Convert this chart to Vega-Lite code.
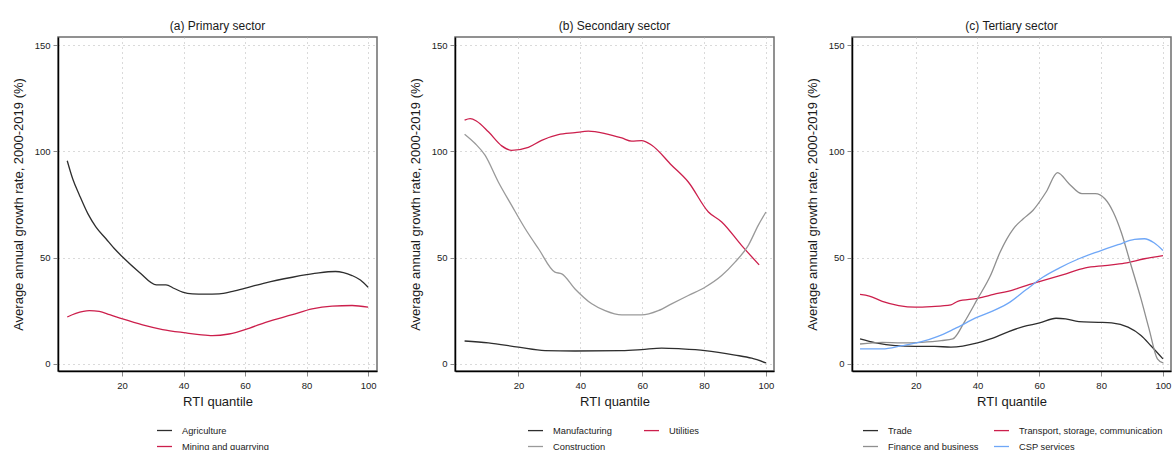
{
  "$schema": "https://vega.github.io/schema/vega-lite/v6.json",
  "padding": {"left": 11, "top": 19, "right": 0, "bottom": 0},
  "spacing": 30,
  "background": "white",
  "resolve": {"scale": {"color": "independent", "x": "independent", "y": "independent"}, "legend": {"color": "independent"}},
  "config": {
    "font": "Liberation Sans",
    "view": {"stroke": "#6e6e6e", "strokeWidth": 1.5},
    "title": {"fontSize": 12, "fontWeight": "normal", "color": "#1a1a1a", "offset": 4, "anchor": "middle"},
    "axis": {
      "domainColor": "#000000", "domainWidth": 1.5,
      "tickColor": "#8a8a8a", "tickSize": 5, "tickWidth": 1,
      "labelFontSize": 9.5, "labelColor": "#222222", "labelPadding": 3,
      "titleFontSize": 13, "titleFontWeight": "normal", "titleColor": "#1a1a1a",
      "grid": true, "gridColor": "#b5b5b5", "gridDash": [1, 4], "gridWidth": 1
    },
    "axisX": {"titlePadding": 6, "labelPadding": 4},
    "axisY": {"titlePadding": 9, "labelAngle": 0},
    "legend": {
      "orient": "none", "title": null, "symbolType": "stroke", "symbolSize": 225,
      "symbolStrokeWidth": 1.3, "labelFontSize": 9.3, "labelColor": "#222222",
      "labelOffset": 9, "rowPadding": 2
    },
    "line": {"strokeWidth": 1.3, "interpolate": "monotone"}
  },
  "datasets": {
    "a": [
      {"s": "Agriculture", "q": 2.2, "v": 95.6}, {"s": "Agriculture", "q": 4, "v": 87}, {"s": "Agriculture", "q": 6.2, "v": 79.3},
      {"s": "Agriculture", "q": 8.9, "v": 70.7}, {"s": "Agriculture", "q": 11.5, "v": 64.5}, {"s": "Agriculture", "q": 14.8, "v": 58.9},
      {"s": "Agriculture", "q": 17.5, "v": 54.3}, {"s": "Agriculture", "q": 20.2, "v": 50.3}, {"s": "Agriculture", "q": 25.6, "v": 43.2},
      {"s": "Agriculture", "q": 31.2, "v": 37.2}, {"s": "Agriculture", "q": 34.3, "v": 37.2}, {"s": "Agriculture", "q": 37, "v": 35.5},
      {"s": "Agriculture", "q": 39.7, "v": 33.8}, {"s": "Agriculture", "q": 42.9, "v": 33.0}, {"s": "Agriculture", "q": 47, "v": 32.9},
      {"s": "Agriculture", "q": 51.6, "v": 33.0}, {"s": "Agriculture", "q": 56, "v": 34.2}, {"s": "Agriculture", "q": 60.2, "v": 35.7},
      {"s": "Agriculture", "q": 66.7, "v": 38.2}, {"s": "Agriculture", "q": 75.4, "v": 40.8}, {"s": "Agriculture", "q": 80, "v": 42},
      {"s": "Agriculture", "q": 84, "v": 42.9}, {"s": "Agriculture", "q": 89.4, "v": 43.5}, {"s": "Agriculture", "q": 92, "v": 43},
      {"s": "Agriculture", "q": 94.8, "v": 41.6}, {"s": "Agriculture", "q": 97.5, "v": 39.5}, {"s": "Agriculture", "q": 100, "v": 36.1},
      {"s": "Mining and quarrying", "q": 2.2, "v": 22.1}, {"s": "Mining and quarrying", "q": 5, "v": 23.8}, {"s": "Mining and quarrying", "q": 9.4, "v": 25.1},
      {"s": "Mining and quarrying", "q": 12.6, "v": 24.7}, {"s": "Mining and quarrying", "q": 16, "v": 23.2}, {"s": "Mining and quarrying", "q": 20.2, "v": 21.2},
      {"s": "Mining and quarrying", "q": 26.7, "v": 18.4}, {"s": "Mining and quarrying", "q": 33.2, "v": 16.2}, {"s": "Mining and quarrying", "q": 40.8, "v": 14.6},
      {"s": "Mining and quarrying", "q": 45.1, "v": 13.8}, {"s": "Mining and quarrying", "q": 49.4, "v": 13.3}, {"s": "Mining and quarrying", "q": 54.8, "v": 14.1},
      {"s": "Mining and quarrying", "q": 61.3, "v": 16.8}, {"s": "Mining and quarrying", "q": 66.7, "v": 19.6}, {"s": "Mining and quarrying", "q": 75.4, "v": 23.2},
      {"s": "Mining and quarrying", "q": 81.8, "v": 25.9}, {"s": "Mining and quarrying", "q": 88.3, "v": 27.2}, {"s": "Mining and quarrying", "q": 94.8, "v": 27.5},
      {"s": "Mining and quarrying", "q": 100, "v": 26.7}
    ],
    "b": [
      {"s": "Manufacturing", "q": 2.6, "v": 10.8}, {"s": "Manufacturing", "q": 10.3, "v": 9.9}, {"s": "Manufacturing", "q": 20, "v": 7.9},
      {"s": "Manufacturing", "q": 28.6, "v": 6.3}, {"s": "Manufacturing", "q": 38.3, "v": 6.1}, {"s": "Manufacturing", "q": 53.4, "v": 6.3},
      {"s": "Manufacturing", "q": 59.8, "v": 6.8}, {"s": "Manufacturing", "q": 66.3, "v": 7.5}, {"s": "Manufacturing", "q": 72.8, "v": 7.1},
      {"s": "Manufacturing", "q": 80.3, "v": 6.3}, {"s": "Manufacturing", "q": 90, "v": 4.2}, {"s": "Manufacturing", "q": 95.4, "v": 2.7},
      {"s": "Manufacturing", "q": 100, "v": 0.5},
      {"s": "Utilities", "q": 2.6, "v": 114.7}, {"s": "Utilities", "q": 4.4, "v": 115.4}, {"s": "Utilities", "q": 6.5, "v": 114.2},
      {"s": "Utilities", "q": 10.3, "v": 109.2}, {"s": "Utilities", "q": 14.6, "v": 102.6}, {"s": "Utilities", "q": 17.8, "v": 100.5},
      {"s": "Utilities", "q": 23.2, "v": 101.9}, {"s": "Utilities", "q": 27.5, "v": 105.2}, {"s": "Utilities", "q": 32.9, "v": 107.9},
      {"s": "Utilities", "q": 38.3, "v": 108.8}, {"s": "Utilities", "q": 42.6, "v": 109.5}, {"s": "Utilities", "q": 48.0, "v": 108.4},
      {"s": "Utilities", "q": 53.4, "v": 106.3}, {"s": "Utilities", "q": 56.6, "v": 104.8}, {"s": "Utilities", "q": 59.8, "v": 105.1},
      {"s": "Utilities", "q": 63.1, "v": 102.9}, {"s": "Utilities", "q": 69.5, "v": 93.5}, {"s": "Utilities", "q": 74.9, "v": 85.6},
      {"s": "Utilities", "q": 81.4, "v": 71.5}, {"s": "Utilities", "q": 85.7, "v": 66.8}, {"s": "Utilities", "q": 92.1, "v": 55.8},
      {"s": "Utilities", "q": 97.8, "v": 46.6},
      {"s": "Construction", "q": 2.6, "v": 108.1}, {"s": "Construction", "q": 6.0, "v": 103.7}, {"s": "Construction", "q": 9.2, "v": 98.2},
      {"s": "Construction", "q": 13.5, "v": 85.6}, {"s": "Construction", "q": 17.8, "v": 74.6}, {"s": "Construction", "q": 22.2, "v": 63.6},
      {"s": "Construction", "q": 26.5, "v": 54.2}, {"s": "Construction", "q": 31.8, "v": 43.2}, {"s": "Construction", "q": 34.0, "v": 42.4},
      {"s": "Construction", "q": 38.3, "v": 35.3}, {"s": "Construction", "q": 43.7, "v": 28.3}, {"s": "Construction", "q": 48.0, "v": 25.1},
      {"s": "Construction", "q": 53.4, "v": 23.1}, {"s": "Construction", "q": 59.8, "v": 23.1}, {"s": "Construction", "q": 65.2, "v": 25.1},
      {"s": "Construction", "q": 69.5, "v": 28.3}, {"s": "Construction", "q": 74.9, "v": 32.2}, {"s": "Construction", "q": 80.3, "v": 36.1},
      {"s": "Construction", "q": 85.7, "v": 41.6}, {"s": "Construction", "q": 90.0, "v": 47.9}, {"s": "Construction", "q": 94.3, "v": 55.8},
      {"s": "Construction", "q": 97.5, "v": 65.2}, {"s": "Construction", "q": 100, "v": 71.5}
    ],
    "c": [
      {"s": "Trade", "q": 2.0, "v": 11.8}, {"s": "Trade", "q": 7.1, "v": 9.9}, {"s": "Trade", "q": 13.4, "v": 8.6},
      {"s": "Trade", "q": 19.8, "v": 8.3}, {"s": "Trade", "q": 26.1, "v": 8.3}, {"s": "Trade", "q": 31.4, "v": 7.9},
      {"s": "Trade", "q": 40.0, "v": 9.9}, {"s": "Trade", "q": 44.2, "v": 11.8}, {"s": "Trade", "q": 49.5, "v": 14.9},
      {"s": "Trade", "q": 54.8, "v": 17.6}, {"s": "Trade", "q": 60.1, "v": 19.3}, {"s": "Trade", "q": 65.4, "v": 21.5},
      {"s": "Trade", "q": 68.5, "v": 21.2}, {"s": "Trade", "q": 72.8, "v": 19.9}, {"s": "Trade", "q": 79.1, "v": 19.6},
      {"s": "Trade", "q": 83.4, "v": 19.3}, {"s": "Trade", "q": 88.7, "v": 17.3}, {"s": "Trade", "q": 92.9, "v": 13.4},
      {"s": "Trade", "q": 96.1, "v": 8.6}, {"s": "Trade", "q": 100, "v": 2.4},
      {"s": "Transport, storage, communication", "q": 2.0, "v": 32.7}, {"s": "Transport, storage, communication", "q": 5.0, "v": 31.9},
      {"s": "Transport, storage, communication", "q": 9.2, "v": 29.5}, {"s": "Transport, storage, communication", "q": 14.5, "v": 27.5},
      {"s": "Transport, storage, communication", "q": 19.8, "v": 26.7}, {"s": "Transport, storage, communication", "q": 25.1, "v": 27.0},
      {"s": "Transport, storage, communication", "q": 31.4, "v": 27.8}, {"s": "Transport, storage, communication", "q": 33.6, "v": 29.5},
      {"s": "Transport, storage, communication", "q": 40.0, "v": 30.9}, {"s": "Transport, storage, communication", "q": 45.2, "v": 32.7},
      {"s": "Transport, storage, communication", "q": 51.6, "v": 34.9}, {"s": "Transport, storage, communication", "q": 56.9, "v": 37.4},
      {"s": "Transport, storage, communication", "q": 62.2, "v": 39.7}, {"s": "Transport, storage, communication", "q": 67.5, "v": 41.9},
      {"s": "Transport, storage, communication", "q": 74.9, "v": 45.2}, {"s": "Transport, storage, communication", "q": 81.2, "v": 46.3},
      {"s": "Transport, storage, communication", "q": 87.6, "v": 47.4}, {"s": "Transport, storage, communication", "q": 94.0, "v": 49.5},
      {"s": "Transport, storage, communication", "q": 100, "v": 51.0},
      {"s": "Finance and business", "q": 2.0, "v": 9.4}, {"s": "Finance and business", "q": 9.2, "v": 10.2}, {"s": "Finance and business", "q": 15.5, "v": 9.9},
      {"s": "Finance and business", "q": 21.9, "v": 10.2}, {"s": "Finance and business", "q": 28.3, "v": 11.0}, {"s": "Finance and business", "q": 32.0, "v": 11.8},
      {"s": "Finance and business", "q": 35.7, "v": 19.6}, {"s": "Finance and business", "q": 40.0, "v": 30.6}, {"s": "Finance and business", "q": 44.2, "v": 41.6},
      {"s": "Finance and business", "q": 47.3, "v": 52.6}, {"s": "Finance and business", "q": 51.6, "v": 63.6}, {"s": "Finance and business", "q": 54.8, "v": 68.3},
      {"s": "Finance and business", "q": 57.9, "v": 72.2}, {"s": "Finance and business", "q": 62.2, "v": 80.9}, {"s": "Finance and business", "q": 65.9, "v": 90.0},
      {"s": "Finance and business", "q": 69.6, "v": 84.8}, {"s": "Finance and business", "q": 73.8, "v": 80.1}, {"s": "Finance and business", "q": 78.1, "v": 80.1},
      {"s": "Finance and business", "q": 81.2, "v": 77.7}, {"s": "Finance and business", "q": 83.9, "v": 71.5}, {"s": "Finance and business", "q": 86.5, "v": 62.0},
      {"s": "Finance and business", "q": 89.7, "v": 46.3}, {"s": "Finance and business", "q": 92.9, "v": 30.6}, {"s": "Finance and business", "q": 95.5, "v": 16.5},
      {"s": "Finance and business", "q": 98.2, "v": 2.4}, {"s": "Finance and business", "q": 100, "v": 0.5},
      {"s": "CSP services", "q": 2.0, "v": 7.1}, {"s": "CSP services", "q": 9.2, "v": 7.1}, {"s": "CSP services", "q": 15.5, "v": 8.6},
      {"s": "CSP services", "q": 21.9, "v": 10.5}, {"s": "CSP services", "q": 27.2, "v": 13.0}, {"s": "CSP services", "q": 32.5, "v": 16.5},
      {"s": "CSP services", "q": 40.0, "v": 22.0}, {"s": "CSP services", "q": 45.2, "v": 25.1}, {"s": "CSP services", "q": 50.5, "v": 29.1},
      {"s": "CSP services", "q": 55.8, "v": 35.0}, {"s": "CSP services", "q": 61.1, "v": 40.8}, {"s": "CSP services", "q": 66.4, "v": 45.1},
      {"s": "CSP services", "q": 72.8, "v": 49.5}, {"s": "CSP services", "q": 79.1, "v": 52.9}, {"s": "CSP services", "q": 85.5, "v": 56.1},
      {"s": "CSP services", "q": 90.8, "v": 58.6}, {"s": "CSP services", "q": 94.0, "v": 58.9}, {"s": "CSP services", "q": 97.1, "v": 57.0},
      {"s": "CSP services", "q": 100, "v": 53.4}
    ]
  },
  "hconcat": [
    {
      "width": 319, "height": 334,
      "title": "(a) Primary sector",
      "data": {"name": "a"},
      "mark": {"type": "line"},
      "encoding": {
        "x": {"field": "q", "type": "quantitative", "scale": {"domain": [-0.8, 102.9], "nice": false, "zero": false}, "axis": {"values": [20, 40, 60, 80, 100], "title": "RTI quantile"}},
        "y": {"field": "v", "type": "quantitative", "scale": {"domain": [-3.3, 153.8], "nice": false, "zero": false}, "axis": {"values": [0, 50, 100, 150], "title": "Average annual growth rate, 2000-2019 (%)"}},
        "color": {"field": "s", "type": "nominal", "scale": {"domain": ["Agriculture", "Mining and quarrying"], "range": ["#2e2e2e", "#cc1f4c"]},
          "legend": {"legendX": 98, "legendY": 385, "columns": 1}}
      }
    },
    {
      "width": 319, "height": 334,
      "title": "(b) Secondary sector",
      "data": {"name": "b"},
      "mark": {"type": "line"},
      "encoding": {
        "x": {"field": "q", "type": "quantitative", "scale": {"domain": [-0.5, 102.6], "nice": false, "zero": false}, "axis": {"values": [20, 40, 60, 80, 100], "title": "RTI quantile"}},
        "y": {"field": "v", "type": "quantitative", "scale": {"domain": [-3.3, 153.8], "nice": false, "zero": false}, "axis": {"values": [0, 50, 100, 150], "title": "Average annual growth rate, 2000-2019 (%)"}},
        "color": {"field": "s", "type": "nominal", "scale": {"domain": ["Manufacturing", "Construction", "Utilities"], "range": ["#2e2e2e", "#9a9a9a", "#cc1f4c"]},
          "legend": {"legendX": 72, "legendY": 385, "columns": 2, "columnPadding": 29}}
      }
    },
    {
      "width": 319, "height": 334,
      "title": "(c) Tertiary sector",
      "data": {"name": "c"},
      "mark": {"type": "line"},
      "encoding": {
        "x": {"field": "q", "type": "quantitative", "scale": {"domain": [-0.6, 102.6], "nice": false, "zero": false}, "axis": {"values": [20, 40, 60, 80, 100], "title": "RTI quantile"}},
        "y": {"field": "v", "type": "quantitative", "scale": {"domain": [-3.3, 153.8], "nice": false, "zero": false}, "axis": {"values": [0, 50, 100, 150], "title": "Average annual growth rate, 2000-2019 (%)"}},
        "color": {"field": "s", "type": "nominal", "scale": {"domain": ["Trade", "Finance and business", "Transport, storage, communication", "CSP services"], "range": ["#2e2e2e", "#8f8f8f", "#cc1f4c", "#6fa7f7"]},
          "legend": {"legendX": 10, "legendY": 385, "columns": 2, "columnPadding": 12}}
      }
    }
  ]
}
